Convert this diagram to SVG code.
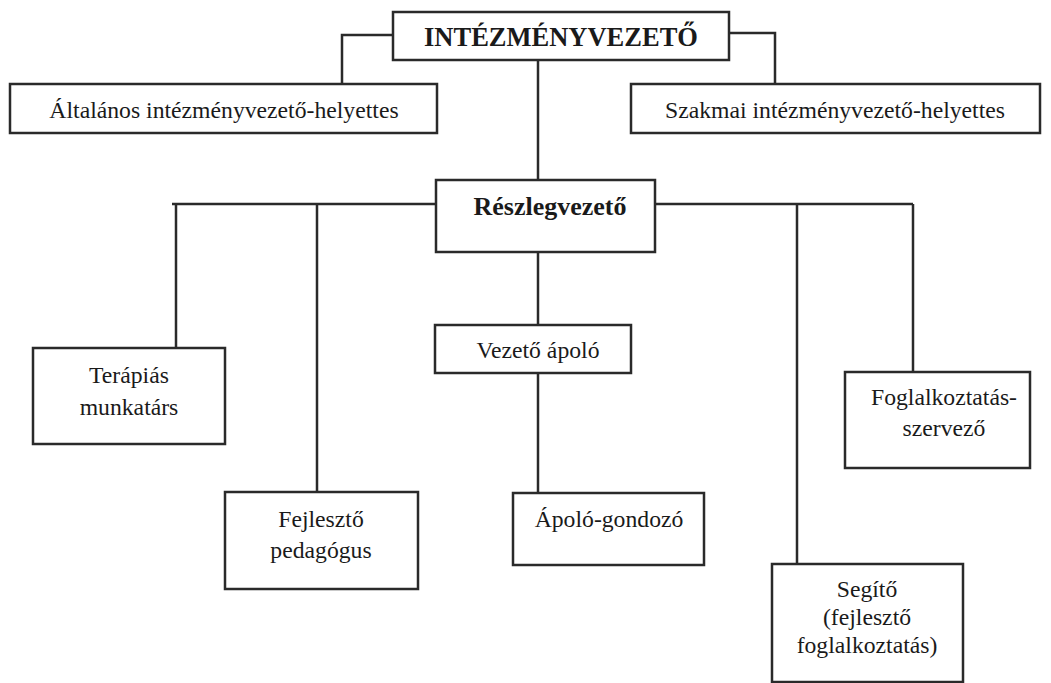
<svg xmlns="http://www.w3.org/2000/svg" width="1051" height="683" viewBox="0 0 1051 683">
<style>
.box{fill:#fff;stroke:#2a2a2a;stroke-width:2.5}
.ln{fill:none;stroke:#2a2a2a;stroke-width:2.5}
text{font-family:"Liberation Serif","Times New Roman",serif;font-size:23.7px;fill:#1a1a1a;text-anchor:middle}
.b{font-weight:bold}
</style>
<rect width="1051" height="683" fill="#fff"/>
<g id="connectors">
<polyline class="ln" points="393,35 342,35 342,84"/>
<polyline class="ln" points="729,33 775,33 775,84"/>
<line class="ln" x1="538" y1="60" x2="538" y2="180"/>
<line class="ln" x1="436" y1="204" x2="172" y2="204"/>
<line class="ln" x1="655" y1="204" x2="913" y2="204"/>
<line class="ln" x1="176" y1="204" x2="176" y2="348"/>
<line class="ln" x1="317" y1="204" x2="317" y2="492"/>
<line class="ln" x1="797" y1="204" x2="797" y2="564"/>
<line class="ln" x1="913" y1="204" x2="913" y2="372"/>
<line class="ln" x1="538" y1="252" x2="538" y2="325"/>
<line class="ln" x1="538" y1="373" x2="538" y2="493"/>
</g>
<g id="n-intezmenyvezeto">
<rect class="box" x="393" y="12" width="336" height="48"/>
<text class="b" x="561" y="46" style="font-size:26.5px">INTÉZMÉNYVEZETŐ</text>
</g>
<g id="n-altalanos">
<rect class="box" x="10" y="84" width="427" height="49"/>
<text x="224" y="118">Általános intézményvezető-helyettes</text>
</g>
<g id="n-szakmai">
<rect class="box" x="631" y="84" width="409" height="49"/>
<text x="835" y="118">Szakmai intézményvezető-helyettes</text>
</g>
<g id="n-reszlegvezeto">
<rect class="box" x="436" y="180" width="219" height="72"/>
<text class="b" x="550" y="215" style="font-size:26px">Részlegvezető</text>
</g>
<g id="n-terapias">
<rect class="box" x="33" y="348" width="192" height="96"/>
<text x="129" y="383">Terápiás</text>
<text x="129" y="415">munkatárs</text>
</g>
<g id="n-fejleszto">
<rect class="box" x="225" y="492" width="193" height="97"/>
<text x="321" y="527">Fejlesztő</text>
<text x="321" y="558">pedagógus</text>
</g>
<g id="n-vezeto-apolo">
<rect class="box" x="435" y="325" width="196" height="48"/>
<text x="538" y="358">Vezető ápoló</text>
</g>
<g id="n-apolo-gondozo">
<rect class="box" x="513" y="493" width="191" height="72"/>
<text x="609" y="527">Ápoló-gondozó</text>
</g>
<g id="n-foglalkoztatas">
<rect class="box" x="845" y="372" width="185" height="96"/>
<text x="944" y="405">Foglalkoztatás-</text>
<text x="944" y="436">szervező</text>
</g>
<g id="n-segito">
<rect class="box" x="772" y="564" width="191" height="118"/>
<text x="867" y="597">Segítő</text>
<text x="867" y="625">(fejlesztő</text>
<text x="867" y="653">foglalkoztatás)</text>
</g>
</svg>
